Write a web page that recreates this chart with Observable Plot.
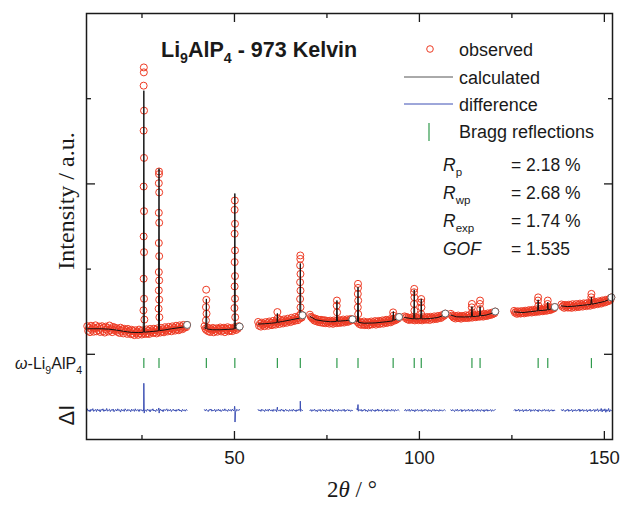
<!DOCTYPE html>
<html><head><meta charset="utf-8">
<script src="https://cdn.jsdelivr.net/npm/d3@7"></script>
<script src="https://cdn.jsdelivr.net/npm/@observablehq/plot@0.6"></script>
<style>body{margin:0;background:#fff}#chart{width:620px;height:505px}</style>
</head><body><div id="chart"></div>
<script>
// ---- data (2θ in degrees, intensity in arbitrary units) ----
const segStarts = [10.2, 41.9, 56.4, 70.4, 83.0, 96.0, 108.5, 125.6, 138.4];
const obsStep = 0.25;
const obsSeg1 = [330,275,310,260,335,290,320,265,305,340,270,315,285,325,262,300,
  330,270,315,255,325,290,310,268,338,282,300,260,322,288,312,275,
  305,262,290,250,312,275,295,245,300,268,285,240,298,262,280,236,
  288,240,270,225,282,250,265,228,290,245,272,232,280,252,268,238,
  292,245,275,238,298,262,280,250,300,258,285,245,305,270,288,255,
  310,265,292,258,318,280,300,268,322,285,305,270,328,292,310,278,
  335,290,318,282,340,300,325,295,345,312,330,318,345];
const obsSeg2 = [330,300,285,315,270,305,262,298,280,310,258,295,275,305,265,300,
  285,315,268,302,278,312,260,298,285,318,270,305,280,310,272,300,
  295,320,285,312,300,330,325];
const obsSeg3 = [380,335,360,325,372,345,355,330,378,350,365,335,385,352,370,342,
  392,355,375,348,398,368,382,355,405,372,390,362,410,380,395,370,
  418,388,402,378,428,395,412,390,438,405,425,400,450,420,438,430,458];
const obsSeg4 = [465,440,430,415,425,395,418,388,410,380,402,375,405,372,398,368,
  400,365,392,372,388,360,395,368,385,358,398,370,390,365,395,372,
  402,368,390,378,408,372,395,385,410,380,400,392,415,398,410];
const obsSeg5 = [400,380,372,355,380,345,370,350,385,342,368,355,378,340,372,352,
  385,350,375,360,390,348,380,362,392,355,385,368,398,360,390,375,
  405,368,395,380,410,375,400,392,418,395,412,405,430,420,438];
const obsSeg6 = [445,425,438,410,430,402,428,410,435,405,422,398,430,412,425,400,
  432,408,420,398,435,410,425,405,438,412,428,402,440,418,430,410,
  445,420,435,415,450,428,440,425,458,440,462,455,478];
const obsSeg7 = [475,455,445,430,452,420,445,428,455,425,440,418,450,432,445,425,
  458,430,448,425,460,438,450,430,462,440,455,435,465,445,458,440,
  470,448,460,442,475,452,465,450,480,458,472,462,488,470,485,480,502];
const obsSeg8 = [510,488,498,475,505,482,495,478,508,485,500,480,512,490,505,488,
  518,495,510,490,522,500,512,495,528,505,518,500,532,510,522,505,
  538,515,528,510,542,520,535,518,548,530,542,538,555];
const obsSeg9 = [585,558,572,545,580,555,570,548,582,552,575,545,588,560,572,550,
  590,562,578,555,595,568,585,560,598,572,590,565,602,578,592,570,
  608,585,600,580,615,592,605,588,622,600,615,595,632,610,625,608,
  640,618,632,625,652,640,668];
const obsSegs = [obsSeg1, obsSeg2, obsSeg3, obsSeg4, obsSeg5, obsSeg6, obsSeg7, obsSeg8, obsSeg9];

// observed points on the Bragg peaks: [2θ, intensity]
const obsPeaks = [
  [25.5,3367],[25.5,3309],[25.45,3153],[25.55,2860],[25.45,2625],[25.55,2305],[25.45,1969],[25.55,1680],[25.45,1383],[25.55,1199],[25.45,887],[25.55,652],[25.4,516],[25.65,407],
  [29.6,2146],[29.6,2115],[29.55,2008],[29.65,1900],[29.55,1661],[29.65,1544],[29.55,1306],[29.65,1152],[29.55,965],[29.65,867],[29.55,750],[29.65,641],[29.5,535],[29.7,435],
  [42.35,758],[42.4,639],[42.3,554],[42.45,477],[42.3,398],
  [50.1,1805],[50.05,1696],[50.15,1532],[50.05,1415],[50.15,1219],[50.05,1082],[50.15,918],[50.05,797],[50.15,653],[50.0,543],[50.2,435],
  [61.6,496],[61.65,422],
  [67.8,1160],[67.8,1120],[67.75,1043],[67.85,943],[67.75,846],[67.85,748],[67.75,649],[67.85,551],[67.9,472],
  [77.7,631],[77.65,571],[77.75,492],
  [83.4,827],[83.4,779],[83.35,709],[83.45,631],[83.35,551],[83.45,472],
  [92.9,492],[92.95,454],
  [98.6,768],[98.55,728],[98.65,669],[98.55,591],[98.65,512],
  [100.5,649],[100.45,609],[100.55,551],[100.5,472],
  [114.2,591],[114.15,551],[114.25,492],
  [116.4,631],[116.35,591],[116.45,532],
  [132.1,668],[132.05,631],[132.15,571],
  [134.7,631],[134.65,591],[134.75,551],
  [146.5,709],[146.45,669],[146.55,631]
];

// calculated profile, one list of [2θ, intensity] per measured range
const calcSegs = [
  [[10.2,300],[12,300],[14,300],[16,295],[18,285],[20,270],[22,258],[24,255],[25.35,258],[25.5,3094],[25.65,260],[27,265],[29.45,275],[29.6,2180],[29.75,278],[31,285],[33,300],[35,312],[37.2,328]],
  [[41.9,310],[42.25,300],[42.4,650],[42.55,298],[44,288],[46,288],[48,292],[49.95,298],[50.1,1887],[50.25,300],[51.4,322]],
  [[56.4,355],[58,358],[60,365],[61.5,372],[61.6,480],[61.7,375],[63,385],[65,402],[67.65,425],[67.8,1066],[67.95,435],[68.4,452]],
  [[70.4,445],[72,405],[74,390],[76,382],[77.55,385],[77.7,632],[77.85,388],[80,395],[81.9,408]],
  [[83.0,390],[83.25,385],[83.4,788],[83.55,375],[85,365],[88,368],[91,382],[92.8,392],[92.95,502],[93.1,398],[94.5,430]],
  [[96.0,432],[98.45,415],[98.6,757],[98.75,415],[100.35,418],[100.5,651],[100.65,415],[103,420],[105,432],[107,465]],
  [[108.5,460],[110,440],[112,438],[114.05,440],[114.2,561],[114.35,442],[116.25,450],[116.4,561],[116.55,452],[118,460],[120.5,492]],
  [[125.6,498],[128,490],[130,500],[131.95,510],[132.1,640],[132.25,512],[134.55,520],[134.7,612],[134.85,522],[136.6,548]],
  [[138.4,568],[140,560],[142,565],[144,575],[146.35,585],[146.5,670],[146.65,588],[148,600],[150,620],[151.9,655]]
];

// difference curve (offset below the pattern), same ranges and step as observed
const diffSeg1 = [-640,-668,-652,-675,-645,-660,-638,-670,-655,-648,-672,-642,-662,-650,-676,-646,
  -658,-640,-670,-652,-664,-636,-668,-655,-645,-672,-650,-660,-642,-674,-656,-648,
  -666,-640,-660,-652,-678,-645,-662,-650,-670,-640,-658,-668,-646,-662,-652,-674,
  -644,-660,-650,-670,-640,-664,-656,-648,-672,-646,-660,-652,-668,-642,-662,-655,
  -670,-644,-658,-650,-676,-648,-660,-640,-666,-654,-672,-646,-658,-650,-668,-642,
  -662,-652,-674,-646,-660,-655,-640,-668,-650,-662,-646,-672,-655,-644,-664,-652,
  -670,-648,-660,-642,-666,-654,-674,-646,-660,-652,-668,-648,-656];
const diffSeg2 = [-650,-666,-645,-660,-672,-648,-658,-642,-668,-655,-662,-646,-674,-652,-660,-644,
  -666,-650,-672,-656,-648,-664,-640,-662,-654,-670,-646,-660,-650,-668,-644,-658,
  -662,-650,-668,-646,-660,-655,-650];
const diffSeg3 = [-648,-664,-652,-670,-644,-660,-655,-672,-646,-662,-650,-668,-642,-658,-664,-650,
  -670,-646,-660,-652,-674,-648,-662,-655,-668,-644,-660,-650,-672,-654,-646,-664,
  -656,-670,-648,-662,-652,-668,-644,-660,-654,-672,-650,-664,-646,-658,-670,-652,-660];
const diffSeg4 = [-662,-648,-670,-652,-660,-644,-668,-655,-674,-650,-662,-646,-670,-656,-648,-666,
  -652,-672,-646,-660,-654,-668,-642,-662,-650,-674,-656,-648,-664,-652,-670,-646,
  -660,-655,-668,-650,-662,-644,-672,-654,-660,-648,-666,-652,-670,-656,-660];
const diffSeg5 = [-640,-655,-668,-650,-662,-646,-670,-652,-660,-644,-668,-656,-674,-648,-662,-652,
  -670,-646,-660,-655,-672,-650,-664,-642,-668,-654,-660,-648,-672,-656,-646,-664,
  -652,-670,-648,-662,-655,-668,-644,-660,-652,-670,-648,-662,-656,-650,-660];
const diffSeg6 = [-660,-646,-668,-652,-662,-644,-670,-655,-648,-666,-652,-674,-650,-660,-646,-668,
  -656,-662,-648,-672,-652,-664,-644,-660,-654,-670,-648,-662,-656,-674,-650,-660,
  -646,-668,-652,-662,-655,-670,-648,-664,-652,-668,-656,-650,-660];
const diffSeg7 = [-652,-666,-648,-660,-672,-650,-662,-644,-668,-656,-660,-646,-674,-652,-662,-648,
  -670,-655,-660,-644,-668,-652,-664,-646,-672,-656,-660,-650,-668,-644,-662,-654,
  -670,-648,-660,-652,-674,-650,-664,-646,-668,-656,-660,-648,-670,-652,-662,-656,-650];
const diffSeg8 = [-658,-646,-668,-652,-662,-644,-670,-655,-660,-648,-674,-652,-664,-646,-668,-656,
  -660,-644,-672,-652,-662,-650,-668,-646,-660,-654,-674,-648,-662,-656,-670,-650,
  -660,-646,-668,-654,-662,-648,-672,-656,-660,-650,-668,-654,-658];
const diffSeg9 = [-650,-666,-646,-660,-672,-652,-662,-644,-670,-656,-660,-646,-674,-652,-664,-648,
  -668,-655,-660,-642,-672,-650,-664,-646,-670,-654,-660,-648,-676,-652,-664,-644,
  -670,-656,-660,-646,-674,-650,-662,-640,-672,-654,-664,-636,-676,-648,-666,-640,
  -680,-650,-668,-636,-676,-652,-660];
const diffSegs = [diffSeg1, diffSeg2, diffSeg3, diffSeg4, diffSeg5, diffSeg6, diffSeg7, diffSeg8, diffSeg9];
const diffSpikes = [[25.45,-662],[25.5,-340],[25.6,-690],[29.55,-630],[29.65,-690],[50.05,-610],[50.15,-795],[50.25,-680],[61.6,-620],[67.75,-640],[67.8,-550],[67.9,-662],[83.4,-590]];

// Bragg reflection positions of ω-Li9AlP4
const bragg = [25.5, 29.6, 42.4, 50.1, 61.6, 67.8, 77.7, 83.4, 92.9, 98.6, 100.5, 114.2, 116.4, 132.1, 134.7, 146.5];

// axis ticks
const xMajor = [50, 100, 150];
const xMinor = [25, 75, 125];
const yMajor = [0, 2000];
const yMinor = [1000, 3000];

// ---- tables ----
const obs = [];
obsSegs.forEach((vals, s) => vals.forEach((v, i) => obs.push({x: segStarts[s] + i * obsStep, v, seg: s})));
obsPeaks.forEach(([x, v]) => obs.push({x, v, seg: -1}));
const segEnds = obsSegs.map((vals, s) => ({x: segStarts[s] + (vals.length - 1) * obsStep, v: vals[vals.length - 1]}));
const calc = calcSegs.flatMap((pts, s) => pts.map(([x, v]) => ({x, v, seg: s})));
const diff = [];
diffSegs.forEach((vals, s) => {
  const pts = vals.map((v, i) => ({x: segStarts[s] + i * obsStep, v, seg: s}));
  const end = pts[pts.length - 1].x;
  diffSpikes.filter(([x]) => x >= segStarts[s] && x <= end).forEach(([x, v]) => pts.push({x, v, seg: s}));
  pts.sort((a, b) => a.x - b.x);
  diff.push(...pts);
});

const SANS = "Arial, 'Liberation Sans', Helvetica, sans-serif";
const SERIF = "'Times New Roman', 'Liberation Serif', 'DejaVu Serif', serif";
const INK = "#1a1a1a";
const RED = "#ee3b24";
const tickStyle = {tickFormat: () => "", label: null, stroke: INK, strokeWidth: 1.3};

const plot = Plot.plot({
  width: 620, height: 505,
  marginLeft: 86, marginRight: 8, marginTop: 13, marginBottom: 66,
  x: {domain: [10, 152.2]},
  y: {domain: [-1000, 4000]},
  style: {fontFamily: SANS, background: "white", color: INK},
  marks: [
    Plot.dot(obs, {x: "x", y: "v", r: 3.5, stroke: RED, strokeWidth: 1, fill: "none"}),
    Plot.line(calc, {x: "x", y: "v", z: "seg", stroke: "#111", strokeWidth: 1}),
    Plot.dot(segEnds, {x: "x", y: "v", r: 3.5, stroke: "#666", strokeWidth: 1, fill: "white"}),
    Plot.line(diff, {x: "x", y: "v", z: "seg", stroke: "#3c4fb4", strokeWidth: 1}),
    Plot.ruleX(bragg, {x: d => d, y1: -50, y2: -168, stroke: "#2f9a4c", strokeWidth: 1.2}),
    Plot.frame({stroke: INK, strokeWidth: 1.5}),
    Plot.axisX(xMajor, {anchor: "bottom", tickSize: 0, tickPadding: 11, fontSize: 18.5, label: null, fill: INK}),
    Plot.axisX(xMajor, {anchor: "bottom", tickSize: -8, ...tickStyle}),
    Plot.axisX(xMinor, {anchor: "bottom", tickSize: -4, ...tickStyle}),
    Plot.axisX(xMajor, {anchor: "top", tickSize: -8, ...tickStyle}),
    Plot.axisX(xMinor, {anchor: "top", tickSize: -4, ...tickStyle}),
    Plot.axisY(yMajor, {anchor: "left", tickSize: -9, ...tickStyle}),
    Plot.axisY(yMinor, {anchor: "left", tickSize: -5, ...tickStyle}),
    Plot.axisY(yMajor, {anchor: "right", tickSize: -9, ...tickStyle}),
    Plot.axisY(yMinor, {anchor: "right", tickSize: -5, ...tickStyle})
  ]
});
document.getElementById("chart").appendChild(plot);

// ---- annotations ----
const svg = d3.select(plot);
const g = svg.append("g").attr("fill", INK);
function txt(x, y, parts, {size = 18, weight = "normal", family = SANS, anchor = "start", rotate = 0} = {}) {
  const t = g.append("text").attr("font-size", size).attr("font-weight", weight)
    .attr("font-family", family).attr("text-anchor", anchor);
  if (rotate) t.attr("transform", `translate(${x},${y}) rotate(${rotate})`);
  else t.attr("x", x).attr("y", y);
  let shift = 0;
  for (const p of parts) {
    const [s, kind] = typeof p === "string" ? [p, ""] : p;
    const ts = t.append("tspan").text(s);
    let target = 0;
    if (kind.includes("sub")) { ts.attr("font-size", size * 0.66); target = size * 0.3; }
    if (kind.includes("it")) ts.attr("font-style", "italic");
    if (target !== shift) { ts.attr("dy", target - shift); shift = target; }
  }
  return t;
}
txt(161, 57, ["Li", ["9", "sub"], "AlP", ["4", "sub"], " - 973 Kelvin"], {size: 21.5, weight: "bold"});

// legend
g.append("circle").attr("cx", 430).attr("cy", 49).attr("r", 3.3).attr("fill", "none").attr("stroke", RED);
g.append("line").attr("x1", 404).attr("x2", 453).attr("y1", 77).attr("y2", 77).attr("stroke", "#555").attr("stroke-width", 1);
g.append("line").attr("x1", 404).attr("x2", 453).attr("y1", 104).attr("y2", 104).attr("stroke", "#3c4fb4").attr("stroke-width", 1);
g.append("line").attr("x1", 429).attr("x2", 429).attr("y1", 123).attr("y2", 141).attr("stroke", "#2f9a4c").attr("stroke-width", 1.2);
txt(459, 56, ["observed"]);
txt(459, 83.5, ["calculated"]);
txt(459, 111, ["difference"]);
txt(459, 138, ["Bragg reflections"]);

// agreement factors
const stats = [
  [["R", "it"], ["p", "sub"]],
  [["R", "it"], ["wp", "sub"]],
  [["R", "it"], ["exp", "sub"]],
  [["GOF", "it"]]
];
const statVals = ["= 2.18 %", "= 2.68 %", "= 1.74 %", "= 1.535"];
stats.forEach((p, i) => {
  txt(443, 171 + i * 28, p, {size: 17.5});
  txt(511, 171 + i * 28, [statVals[i]], {size: 17.5});
});

// axis titles
txt(74, 201, ["Intensity / a.u."], {size: 24, family: SERIF, anchor: "middle", rotate: -90});
txt(82, 369, [["ω", "it"], "-Li", ["9", "sub"], "AlP", ["4", "sub"]], {size: 16, anchor: "end"});
txt(74, 415, ["ΔI"], {size: 22, anchor: "middle", rotate: -90});
txt(352, 497, ["2", ["θ", "it"], " / °"], {size: 23, family: SERIF, anchor: "middle"});
</script>
</body></html>
